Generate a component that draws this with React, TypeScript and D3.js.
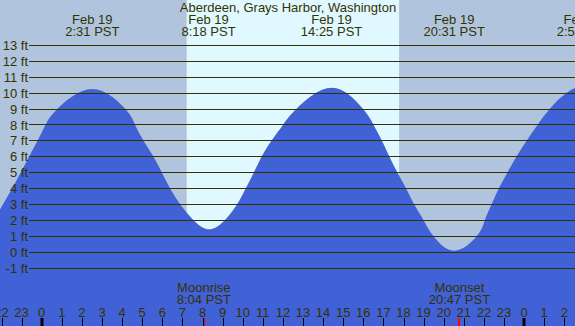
import * as d3 from 'd3';

// tide curve points (hours from Feb 19 00:00, feet)
const tideHours = [-2.1, -1.33, -0.62, -0.2, 0.2, 0.8, 2.52, 4.14, 4.64, 5.06, 5.55, 5.97, 6.38, 6.88, 7.54, 8.33,
  9.12, 9.73, 10.16, 10.56, 10.95, 11.44, 12.02, 12.69, 14.43, 15.97, 16.5, 16.92, 17.29, 17.69, 18.12, 18.52,
  18.99, 19.48, 20.52, 21.66, 22.05, 22.39, 22.75, 23.18, 23.63, 24.13, 24.68, 25.29, 26.12, 26.97];
const tideFeet = [2.6, 4.3, 6, 7, 8, 9, 10.23, 9, 8, 7, 6, 5, 4, 3, 2, 1.41,
  2, 3, 4, 5, 6, 7, 8, 9, 10.31, 9, 8, 7, 6, 5, 4, 3,
  2, 1, 0.06, 1, 2, 3, 4, 5, 6, 7, 8, 9, 10, 10.5];

// high / low tide labels
const extremeHours = [2.52, 8.3, 14.42, 20.52, 26.97];
const extremeDates = ['Feb 19', 'Feb 19', 'Feb 19', 'Feb 19', 'Feb 20'];
const extremeTimes = ['2:31 PST', '8:18 PST', '14:25 PST', '20:31 PST', '2:58 PST'];

// moon events
const moonHours = [8.067, 20.783];
const moonNames = ['Moonrise', 'Moonset'];
const moonTimes = ['8:04 PST', '20:47 PST'];

// daylight
const sunrise = 7.21;
const sunset = 17.78;

const feetTicks = d3.range(-1, 14);
const hourTicks = d3.range(-2, 27);

const title = 'Aberdeen, Grays Harbor, Washington';

const W = 575;
const H = 326;
const NIGHT = '#b0c4de';
const DAY = '#e0f8ff';
const WATER = '#4161d6';
const INK = '#333300';
const FONT = '"Liberation Sans", Arial, sans-serif';

export default function App() {
  const x = d3.scaleLinear().domain([0, 24]).range([41.7, 41.7 + 24 * 20.1]);
  const y = d3.scaleLinear().domain([0, 13]).range([251.7, 45]);

  const pts = tideHours.map((h, i) => [h, tideFeet[i]] as [number, number]);
  const area = d3.area<[number, number]>()
    .x(d => x(d[0]))
    .y0(H)
    .y1(d => y(d[1]))
    .curve(d3.curveNatural);

  const hourLabel = (h: number) => String(((h % 24) + 24) % 24);

  return (
    <div style={{ position: 'absolute', left: 0, top: 0, width: W, height: H }}>
      <svg width={W} height={H} style={{ display: 'block' }} fontFamily={FONT} fontSize={13}>
        <rect x={0} y={0} width={W} height={H} fill={NIGHT} />
        <rect x={x(sunrise)} y={0} width={x(sunset) - x(sunrise)} height={H} fill={DAY} />

        <path d={area(pts) ?? ''} fill={WATER} />

        {/* feet grid */}
        {feetTicks.map(f => (
          <g key={f}>
            <line x1={29} x2={W} y1={Math.round(y(f)) + 0.5} y2={Math.round(y(f)) + 0.5} stroke={INK} strokeWidth={1} />
            <text x={28} y={y(f) + 5} textAnchor="end" fill={INK}>{f} ft</text>
          </g>
        ))}

        {/* title + tide extremes */}
        <text x={288} y={12} textAnchor="middle" fill={INK}>{title}</text>
        {extremeHours.map((h, i) => (
          <g key={i}>
            <text x={x(h)} y={24} textAnchor="middle" fill={INK}>{extremeDates[i]}</text>
            <text x={x(h)} y={36} textAnchor="middle" fill={INK}>{extremeTimes[i]}</text>
          </g>
        ))}

        {/* moon */}
        {moonHours.map((h, i) => (
          <g key={i}>
            <text x={x(h)} y={292} textAnchor="middle" fill={INK}>{moonNames[i]}</text>
            <text x={x(h)} y={304.3} textAnchor="middle" fill={INK}>{moonTimes[i]}</text>
            <rect x={Math.round(x(h)) - 1} y={318} width={2} height={8} fill="#ff0000" />
          </g>
        ))}

        {/* hour axis */}
        {hourTicks.map(h => {
          const px = Math.round(x(h));
          const midnight = ((h % 24) + 24) % 24 === 0;
          return (
            <g key={h}>
              <text x={x(h)} y={316.5} textAnchor="middle" fill={INK}>{hourLabel(h)}</text>
              {midnight
                ? <rect x={px - 1.5} y={318} width={3} height={8} fill="#000" />
                : <rect x={px} y={318} width={1} height={8} fill="#000" />}
            </g>
          );
        })}
      </svg>
    </div>
  );
}
